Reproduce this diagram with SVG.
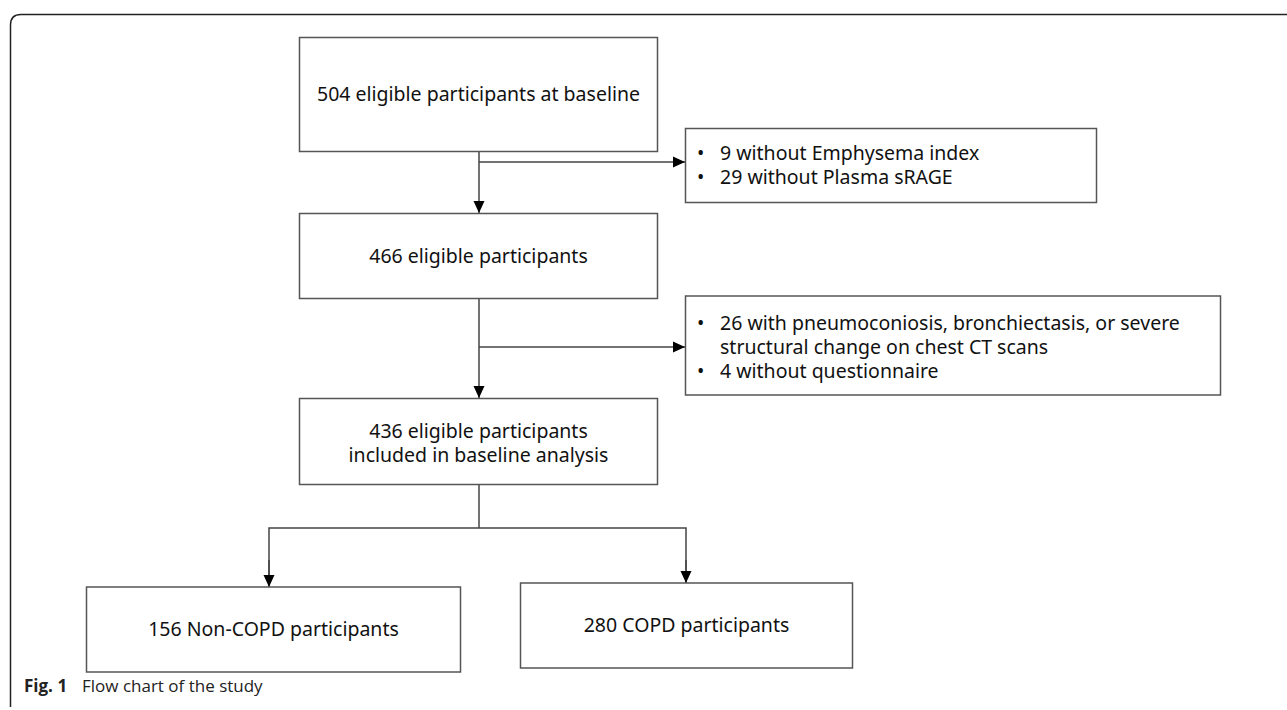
<svg xmlns="http://www.w3.org/2000/svg" width="1287" height="710" viewBox="0 0 1287 710">
<style>
.box{fill:#fff;stroke:#555;stroke-width:1.5}
.t{font-family:"Noto Sans","Open Sans","DejaVu Sans",sans-serif;font-size:19.5px;fill:#111}
.c{text-anchor:middle}
.ln{fill:none;stroke:#444;stroke-width:1.5}
.cap{font-family:"Open Sans","Noto Sans",sans-serif;font-size:17px;fill:#222}
</style>
<defs>
<marker id="ah" markerUnits="userSpaceOnUse" markerWidth="12" markerHeight="12" refX="12" refY="6" orient="auto">
<path d="M0,0.5 L12,6 L0,11.5 z" fill="#000"/>
</marker>
</defs>
<rect width="1287" height="710" fill="#fff"/>
<path d="M10.5,707 L10.5,25 Q10.5,14.5 21,14.5 L1287,14.5" fill="none" stroke="#222" stroke-width="1.5"/>
<g id="connectors">
<line class="ln" x1="479" y1="152" x2="479" y2="213" marker-end="url(#ah)"/>
<line class="ln" x1="479" y1="162" x2="685" y2="162" marker-end="url(#ah)"/>
<line class="ln" x1="479" y1="299" x2="479" y2="398" marker-end="url(#ah)"/>
<line class="ln" x1="479" y1="347" x2="685" y2="347" marker-end="url(#ah)"/>
<polyline class="ln" points="479,485 479,528"/>
<polyline class="ln" points="269,587 269,528 686,528 686,583"/>
<line class="ln" x1="269" y1="560" x2="269" y2="587" marker-end="url(#ah)"/>
<line class="ln" x1="686" y1="560" x2="686" y2="583" marker-end="url(#ah)"/>
</g>
<g id="n504">
<rect class="box" x="299.5" y="37.5" width="358" height="114"/>
<text class="t c" x="478.5" y="101">504 eligible participants at baseline</text>
</g>
<g id="excl1">
<rect class="box" x="685.5" y="128.5" width="411" height="74"/>
<text class="t" x="697" y="160">•</text>
<text class="t" x="720" y="160">9 without Emphysema index</text>
<text class="t" x="697" y="184">•</text>
<text class="t" x="720" y="184">29 without Plasma sRAGE</text>
</g>
<g id="n466">
<rect class="box" x="299.5" y="213.5" width="358" height="85"/>
<text class="t c" x="478.5" y="263">466 eligible participants</text>
</g>
<g id="excl2">
<rect class="box" x="685.5" y="296" width="535" height="99"/>
<text class="t" x="697" y="330">•</text>
<text class="t" x="720" y="330">26 with pneumoconiosis, bronchiectasis, or severe</text>
<text class="t" x="720" y="354">structural change on chest CT scans</text>
<text class="t" x="697" y="378">•</text>
<text class="t" x="720" y="378">4 without questionnaire</text>
</g>
<g id="n436">
<rect class="box" x="299.5" y="398.5" width="358" height="86"/>
<text class="t c" x="478.5" y="438">436 eligible participants</text>
<text class="t c" x="478.5" y="462">included in baseline analysis</text>
</g>
<g id="n156">
<rect class="box" x="86.5" y="587" width="374" height="85"/>
<text class="t c" x="273.5" y="636">156 Non-COPD participants</text>
</g>
<g id="n280">
<rect class="box" x="520.5" y="583" width="332" height="85"/>
<text class="t c" x="686.5" y="632">280 COPD participants</text>
</g>
<text class="cap" x="24" y="692"><tspan font-weight="bold">Fig. 1</tspan><tspan x="82">Flow chart of the study</tspan></text>
</svg>
